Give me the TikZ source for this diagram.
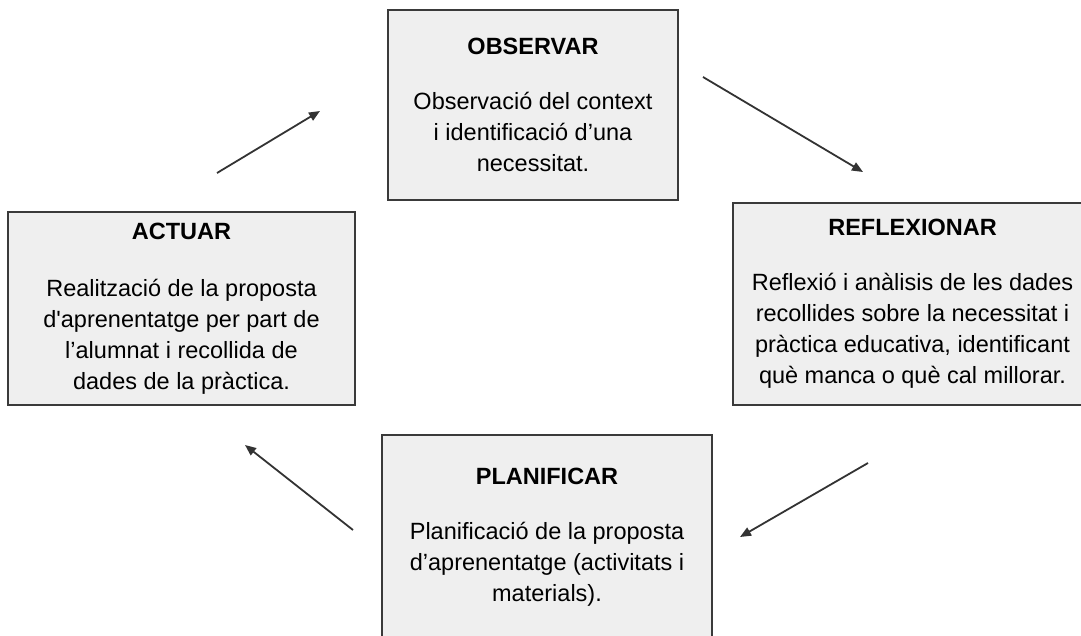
\documentclass[tikz,border=0pt]{standalone}
\usepackage{fontspec}
\setmainfont{Liberation Sans}
\usetikzlibrary{arrows.meta}
\definecolor{boxfill}{HTML}{EFEFEF}
\definecolor{boxline}{HTML}{3A3A3A}
\definecolor{arrowline}{HTML}{333333}

\begin{document}
\begin{tikzpicture}[x=1pt,y=-1pt,
  stage/.style={draw=boxline,fill=boxfill,line width=1.6pt,align=center,inner sep=0pt,
    font=\fontsize{23.5}{31}\selectfont},
  cycle/.style={draw=arrowline,line width=1.8pt,-{Triangle[length=11pt,width=9pt]}}]
\useasboundingbox (0,0) rectangle (1081,635);
\clip (0,0) rectangle (1081,635);
% the four stages
\node [stage,minimum width=290pt,minimum height=190pt] (observar) at (533,105)
  {\textbf{OBSERVAR}\\[24pt]Observació del context\\i identificació d’una\\necessitat.};
\node [stage,minimum width=359pt,minimum height=202pt] (reflexionar) at (912.5,304)
  {\textbf{REFLEXIONAR}\\[24pt]Reflexió i anàlisis de les dades\\recollides sobre la necessitat i\\pràctica educativa, identificant\\què manca o què cal millorar.};
\node [stage,minimum width=330pt,minimum height=204pt] (planificar) at (547,537)
  {\textbf{PLANIFICAR}\\[24pt]Planificació de la proposta\\d’aprenentatge (activitats i\\materials).};
\node [stage,minimum width=347pt,minimum height=193pt] (actuar) at (181.5,308.5)
  {\textbf{ACTUAR}\\[26pt]Realització de la proposta\\d\textquotesingle aprenentatge per part de\\l’alumnat i recollida de\\dades de la pràctica.};
% arrow ends
\coordinate (ao) at (217,173);
\coordinate (oa) at (320,111);
\coordinate (or) at (703,77);
\coordinate (ro) at (863,172);
\coordinate (rp) at (868,463);
\coordinate (pr) at (740,537);
\coordinate (pa) at (353,530);
\coordinate (ap) at (245,445);
\draw [cycle] (ao) -- (oa);
\draw [cycle] (or) -- (ro);
\draw [cycle] (rp) -- (pr);
\draw [cycle] (pa) -- (ap);
\end{tikzpicture}
\end{document}
